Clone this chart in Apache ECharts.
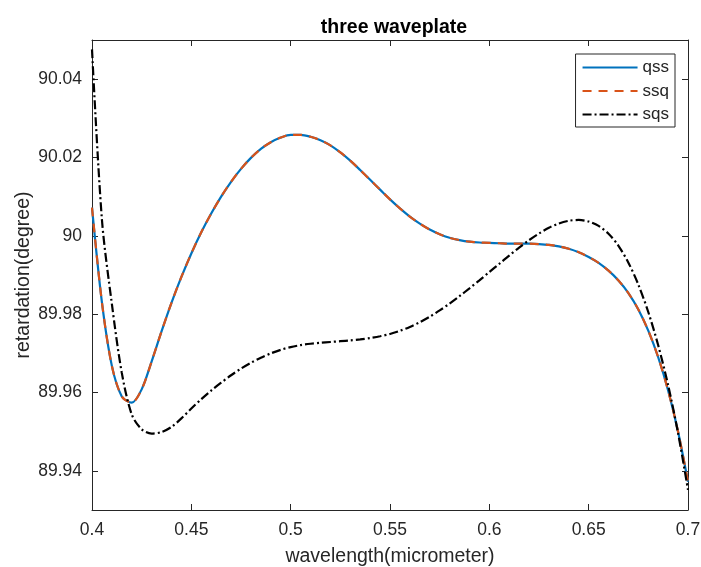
<!DOCTYPE html>
<html>
<head>
<meta charset="utf-8">
<script src="https://cdn.jsdelivr.net/npm/echarts@6/dist/echarts.min.js"></script>
<style>html,body{margin:0;padding:0;background:#fff;}#c{width:701px;height:567px;}</style>
</head>
<body>
<div id="c"></div>
<script>
var wavelength = [0.400,0.405,0.410,0.415,0.420,0.425,0.430,0.435,0.440,0.445,0.450,0.455,0.460,0.465,0.470,0.475,0.480,0.485,0.490,0.495,0.500,0.505,0.510,0.515,0.520,0.525,0.530,0.535,0.540,0.545,0.550,0.555,0.560,0.565,0.570,0.575,0.580,0.585,0.590,0.595,0.600,0.605,0.610,0.615,0.620,0.625,0.630,0.635,0.640,0.645,0.650,0.655,0.660,0.665,0.670,0.675,0.680,0.685,0.690,0.695,0.700];
var qss = [90.0072,89.9830,89.9668,89.9590,89.9574,89.9608,89.9679,89.9756,89.9829,89.9895,89.9955,90.0009,90.0057,90.0100,90.0138,90.0171,90.0199,90.0222,90.0239,90.0251,90.0258,90.0258,90.0253,90.0244,90.0231,90.0213,90.0192,90.0168,90.0143,90.0118,90.0093,90.0070,90.0049,90.0031,90.0016,90.0004,89.9995,89.9989,89.9985,89.9983,89.9982,89.9981,89.9980,89.9980,89.9980,89.9979,89.9977,89.9973,89.9967,89.9958,89.9946,89.9931,89.9911,89.9886,89.9854,89.9812,89.9758,89.9690,89.9605,89.9500,89.9372];
var ssq = [90.0072,89.9830,89.9668,89.9590,89.9574,89.9608,89.9679,89.9756,89.9829,89.9895,89.9955,90.0009,90.0057,90.0100,90.0138,90.0171,90.0199,90.0222,90.0239,90.0251,90.0258,90.0258,90.0253,90.0244,90.0231,90.0213,90.0192,90.0168,90.0143,90.0118,90.0093,90.0070,90.0049,90.0031,90.0016,90.0004,89.9995,89.9989,89.9985,89.9983,89.9982,89.9981,89.9980,89.9980,89.9980,89.9979,89.9977,89.9973,89.9967,89.9958,89.9946,89.9931,89.9911,89.9886,89.9854,89.9812,89.9758,89.9690,89.9605,89.9500,89.9372];
var sqs = [90.0476,90.0041,89.9826,89.9650,89.9544,89.9506,89.9495,89.9499,89.9512,89.9534,89.9559,89.9583,89.9605,89.9625,89.9644,89.9661,89.9676,89.9689,89.9700,89.9709,89.9716,89.9721,89.97245,89.9727,89.9729,89.9731,89.9733,89.97355,89.9739,89.97435,89.97495,89.97575,89.97675,89.97795,89.97935,89.98095,89.9827,89.9846,89.9866,89.98865,89.99075,89.99285,89.99495,89.9970,89.9989,90.0006,90.00205,90.00315,90.00385,90.00405,90.00365,90.00255,90.00055,89.99745,89.99315,89.98755,89.98055,89.97205,89.96185,89.94965,89.93515];
var yTicks = [89.94,89.96,89.98,90,90.02,90.04];
var xTicks = [0.4,0.45,0.5,0.55,0.6,0.65,0.7];

function pairs(ys){ return wavelength.map(function(x,i){return [x, ys[i]];}); }
function fmt(v){ return String(parseFloat(Number(v).toFixed(4))); }

var axisCol = '#262626';
var FONT = 'Liberation Sans, Arial, sans-serif';
var chart = echarts.init(document.getElementById('c'), null, {renderer:'canvas'});
chart.setOption({
  animation:false,
  backgroundColor:'#ffffff',
  title:{text:'three waveplate', left:389, top:13, textAlign:'center',
    textStyle:{fontFamily:FONT, fontSize:19.5, fontWeight:'bold', color:'#000'}},
  legend:{
    orient:'vertical', right:26, top:54,
    backgroundColor:'#fff', borderColor:'#262626', borderWidth:1, borderRadius:0,
    padding:[5,6,4,6], itemGap:6.5, itemWidth:55, itemHeight:14,
    itemStyle:{opacity:0},
    textStyle:{fontFamily:FONT, fontSize:17, color:'#262626'},
    data:['qss','ssq','sqs']
  },
  grid:{left:92, right:13, top:40, bottom:57, containLabel:false, outerBoundsMode:'none'},
  xAxis:[{
    type:'value', min:0.4, max:0.7, interval:0.05,
    name:'wavelength(micrometer)', nameLocation:'middle', nameGap:37, nameMoveOverlap:false,
    nameTextStyle:{fontFamily:FONT, fontSize:19.5, color:axisCol},
    axisLine:{show:true, lineStyle:{color:axisCol, width:1}},
    axisTick:{show:true, inside:true, length:6, lineStyle:{color:axisCol}},
    axisLabel:{fontFamily:FONT, fontSize:17.5, color:axisCol, margin:11, formatter:fmt},
    splitLine:{show:false}
  },{
    type:'value', position:'top', min:0.4, max:0.7, interval:0.05,
    axisLine:{show:true, lineStyle:{color:axisCol, width:1}},
    axisTick:{show:true, inside:true, length:6, lineStyle:{color:axisCol}},
    axisLabel:{show:false}, splitLine:{show:false}
  }],
  yAxis:[{
    type:'value', min:89.93, max:90.05,
    name:'retardation(degree)', nameLocation:'middle', nameGap:58, nameMoveOverlap:false,
    nameTextStyle:{fontFamily:FONT, fontSize:19.5, color:axisCol},
    axisLine:{show:true, lineStyle:{color:axisCol, width:1}},
    axisTick:{show:true, inside:true, length:6, lineStyle:{color:axisCol}, customValues:yTicks},
    axisLabel:{fontFamily:FONT, fontSize:17.5, color:axisCol, margin:10, formatter:fmt, customValues:yTicks},
    splitLine:{show:false}
  },{
    type:'value', position:'right', min:89.93, max:90.05,
    axisLine:{show:true, lineStyle:{color:axisCol, width:1}},
    axisTick:{show:true, inside:true, length:6, lineStyle:{color:axisCol}, customValues:yTicks},
    axisLabel:{show:false, customValues:yTicks}, splitLine:{show:false}
  }],
  series:[
    {name:'qss', type:'line', data:pairs(qss), smooth:0.3, showSymbol:false, symbol:'none',
      lineStyle:{color:'#0072BD', width:2.2, type:'solid'}, itemStyle:{color:'#0072BD'}},
    {name:'ssq', type:'line', data:pairs(ssq), smooth:0.3, showSymbol:false, symbol:'none',
      lineStyle:{color:'#D95319', width:2.2, type:[9,7]}, itemStyle:{color:'#D95319'}},
    {name:'sqs', type:'line', data:pairs(sqs), smooth:0.3, showSymbol:false, symbol:'none',
      lineStyle:{color:'#000000', width:2.2, type:[9,3,2,3]}, itemStyle:{color:'#000000'}}
  ]
});
</script>
</body>
</html>
